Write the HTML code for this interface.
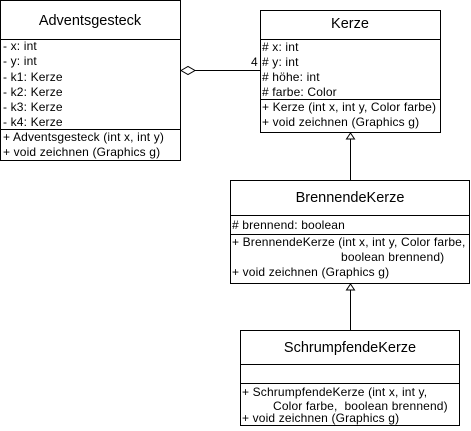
<!DOCTYPE html>
<html><head><meta charset="utf-8"><style>
html,body{margin:0;padding:0;background:#fff;width:471px;height:431px;overflow:hidden}
svg text{font-family:"Liberation Sans",Arial,sans-serif;font-size:12px;letter-spacing:0.15px;fill:#000}
svg text.t{font-size:14.5px;letter-spacing:0}
</style></head><body>
<svg width="471" height="431" viewBox="0 0 471 431" xmlns="http://www.w3.org/2000/svg" shape-rendering="crispEdges">
<g fill="none" stroke="#000" stroke-width="1">
<rect x="0.5" y="0.5" width="180" height="160"/>
<line x1="0" y1="39.5" x2="180" y2="39.5"/>
<line x1="0" y1="129.5" x2="180" y2="129.5"/>
<rect x="260.5" y="10.5" width="180" height="122"/>
<line x1="260" y1="39.5" x2="440" y2="39.5"/>
<line x1="260" y1="99.5" x2="440" y2="99.5"/>
<rect x="230.5" y="180.5" width="239" height="103"/>
<line x1="230" y1="215.5" x2="470" y2="215.5"/>
<line x1="230" y1="234.5" x2="470" y2="234.5"/>
<rect x="240.5" y="330.5" width="219" height="95"/>
<line x1="240" y1="364.5" x2="460" y2="364.5"/>
<line x1="240" y1="383.5" x2="460" y2="383.5"/>
<line x1="195" y1="70.5" x2="260" y2="70.5"/>
<polygon points="181,70.5 188,66.5 195,70.5 188,74.5" shape-rendering="auto"/>
<line x1="350.5" y1="139" x2="350.5" y2="180"/>
<polygon points="350.5,133 354.5,139 346.5,139" shape-rendering="auto"/>
<line x1="350.5" y1="290" x2="350.5" y2="330"/>
<polygon points="350.5,284 354.5,290 346.5,290" shape-rendering="auto"/>
</g>
<text class="t" x="90" y="25" text-anchor="middle">Adventsgesteck</text>
<text x="3" y="50">- x: int</text>
<text x="3" y="65">- y: int</text>
<text x="3" y="81">- k1: Kerze</text>
<text x="3" y="96">- k2: Kerze</text>
<text x="3" y="111">- k3: Kerze</text>
<text x="3" y="126">- k4: Kerze</text>
<text x="3" y="141">+ Adventsgesteck (int x, int y)</text>
<text x="3" y="156">+ void zeichnen (Graphics g)</text>

<text x="251" y="66">4</text>

<text class="t" x="350" y="28" text-anchor="middle">Kerze</text>
<text x="262" y="51"># x: int</text>
<text x="262" y="66"># y: int</text>
<text x="262" y="81"># höhe: int</text>
<text x="262" y="96"># farbe: Color</text>
<text x="262" y="111">+ Kerze (int x, int y, Color farbe)</text>
<text x="262" y="126">+ void zeichnen (Graphics g)</text>

<text class="t" x="350" y="202" text-anchor="middle">BrennendeKerze</text>
<text x="232" y="229"># brennend: boolean</text>
<text x="232" y="246">+ BrennendeKerze (int x, int y, Color farbe,</text>
<text x="341" y="261">boolean brennend)</text>
<text x="232" y="276">+ void zeichnen (Graphics g)</text>

<text class="t" x="350" y="352" text-anchor="middle">SchrumpfendeKerze</text>
<text x="242" y="396">+ SchrumpfendeKerze (int x, int y,</text>
<text x="273" y="410" xml:space="preserve">Color farbe,  boolean brennend)</text>
<text x="242" y="422">+ void zeichnen (Graphics g)</text>
</svg>
</body></html>
